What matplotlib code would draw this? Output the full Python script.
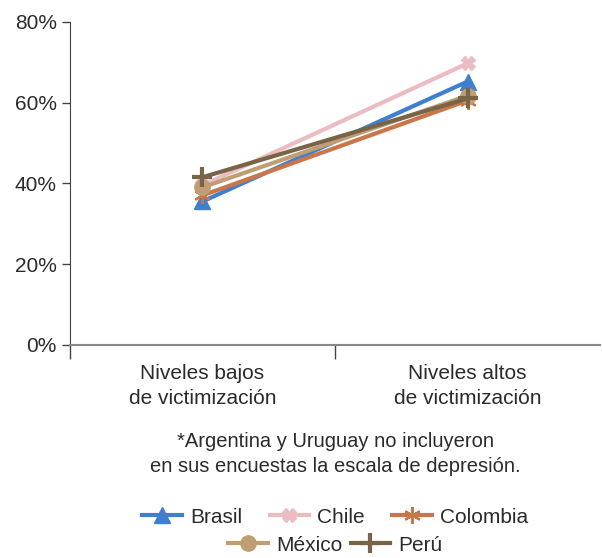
import matplotlib.pyplot as plt
import numpy as np

categorias = ['Niveles bajos\nde victimización', 'Niveles altos\nde victimización']
paises = ['Brasil', 'Chile', 'Colombia', 'México', 'Perú']
brasil = [35.5, 65.2]
chile = [39.5, 69.7]
colombia = [37.0, 60.5]
mexico = [39.0, 61.7]
peru = [41.5, 61.0]

colores = ['#3F7FCF', '#EBBCC2', '#C8764A', '#BE9E72', '#7A6446']
marcadores = ['^', 'X', (6, 2, 0), 'o', '+']

plt.rcParams['font.family'] = ['Liberation Sans', 'DejaVu Sans']

fig = plt.figure(figsize=(6.02, 5.58), dpi=100)
ax = fig.add_axes([0.116, 0.382, 0.881, 0.579])

x = np.arange(len(categorias))
series = [brasil, chile, colombia, mexico, peru]
handles = []
for nombre, valores, c, m in zip(paises, series, colores, marcadores):
    mk = dict(marker=m, markersize=11, color=c, lw=3, label=nombre)
    if m == (6, 2, 0):
        mk.update(markersize=12, markeredgewidth=1.6, markeredgecolor=c)
    elif m == 'X':
        mk.update(markersize=10)
    elif m == '+':
        mk.update(markersize=14, markeredgewidth=3)
    h, = ax.plot(x, valores, **mk)
    handles.append(h)

ax.set_xlim(-0.5, 1.5)
ax.set_ylim(0, 80)
ax.set_yticks([0, 20, 40, 60, 80])
ax.set_yticklabels(['0%', '20%', '40%', '60%', '80%'])
ax.set_xticks(x)
ax.set_xticklabels(categorias, linespacing=1.35)
ax.set_xticks([-0.5, 0.5], minor=True)
ax.tick_params(axis='x', which='major', length=0, pad=14, labelsize=15, colors='#2b2b2b')
ax.tick_params(axis='x', which='minor', length=10, width=1, color='#444444')
ax.tick_params(axis='y', length=6, width=1, color='#444444', labelsize=15, labelcolor='#2b2b2b')

for s in ['top', 'right']:
    ax.spines[s].set_visible(False)
ax.spines['left'].set_color('#444444')
ax.spines['bottom'].set_color('#888888')
ax.spines['bottom'].set_linewidth(1.5)

fig.text(0.557, 0.187, '*Argentina y Uruguay no incluyeron\nen sus encuestas la escala de depresión.',
         ha='center', va='center', fontsize=14.5, color='#2b2b2b', linespacing=1.4)

l1 = fig.legend(handles[:3], paises[:3], loc='center', bbox_to_anchor=(0.557, 0.073), ncol=3,
                frameon=False, fontsize=15, handlelength=1.9, columnspacing=1.3, handletextpad=0.4,
                borderpad=0)
l2 = fig.legend(handles[3:], paises[3:], loc='center', bbox_to_anchor=(0.557, 0.023), ncol=2,
                frameon=False, fontsize=15, handlelength=1.9, columnspacing=0.4, handletextpad=0.4,
                borderpad=0)
for lg in (l1, l2):
    for t in lg.get_texts():
        t.set_color('#2b2b2b')

fig.savefig('out.png', dpi=100)
